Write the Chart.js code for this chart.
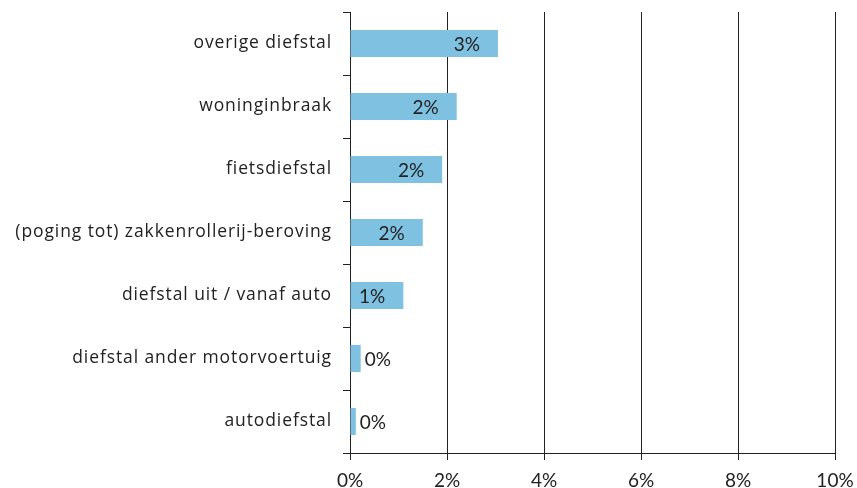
<!DOCTYPE html>
<html><head><meta charset="utf-8">
<script src="https://cdn.jsdelivr.net/npm/chart.js@4/dist/chart.umd.min.js"></script>
<style>html,body{margin:0;padding:0;background:#fff}#wrap{width:857px;height:488px}</style>
</head><body><div id="wrap"><canvas id="c"></canvas></div>
<script>
const categories = ["overige diefstal","woninginbraak","fietsdiefstal","(poging tot) zakkenrollerij-beroving","diefstal uit / vanaf auto","diefstal ander motorvoertuig","autodiefstal"];
const values = [3.05, 2.2, 1.9, 1.5, 1.1, 0.22, 0.12];
const valueLabels = ["3%","2%","2%","2%","1%","0%","0%"];
const xTicks = [0,2,4,6,8,10];

const labelPlugin = {
  id:'barLabels',
  afterDraw(chart){
    const ctx = chart.ctx;
    const meta = chart.getDatasetMeta(0);
    const yScale = chart.scales.y;
    ctx.save();
    ctx.fillStyle = '#222';
    ctx.textBaseline = 'middle';
    ctx.font = '19px Lato';
    meta.data.forEach((bar,i)=>{
      const w = bar.x - bar.base;
      if (w > 40){
        ctx.textAlign='right';
        ctx.fillText(valueLabels[i], bar.x - 18, bar.y+1);
      } else {
        ctx.textAlign='left';
        ctx.fillText(valueLabels[i], bar.x + 4, bar.y+1);
      }
    });
    ctx.font = '17.5px "Open Sans"';
    ctx.letterSpacing = '0.9px';
    ctx.textAlign = 'right';
    categories.forEach((c,i)=>{
      const y = yScale.getPixelForValue(i);
      ctx.fillText(c, chart.chartArea.left - 18, y);
    });
    ctx.restore();
  }
};

new Chart(document.getElementById('c'),{
  type:'bar',
  data:{labels:categories,datasets:[{data:values,backgroundColor:'#7fc1e1',borderWidth:0,barPercentage:0.43,categoryPercentage:1}]},
  options:{
    indexAxis:'y',responsive:true,maintainAspectRatio:false,animation:false,
    layout:{padding:{top:12,right:22,left:0,bottom:0}},
    plugins:{legend:{display:false},tooltip:{enabled:false}},
    scales:{
      x:{min:0,max:10,
        afterBuildTicks(s){s.ticks = xTicks.map(v=>({value:v}));},
        afterFit(s){s.height=35;s.paddingLeft=0;s.paddingRight=0;},
        ticks:{callback:v=>v+'%',font:{family:'Lato',size:19},color:'#222',padding:9,maxRotation:0},
        grid:{color:'#222',lineWidth:1,tickLength:7,drawTicks:true},
        border:{color:'#222',width:1}
      },
      y:{
        afterFit(s){s.width=350;},
        ticks:{display:false},
        grid:{offset:true,drawOnChartArea:false,color:'#222',tickLength:7},
        border:{color:'#222',width:1}
      }
    }
  },
  plugins:[labelPlugin]
});
</script></body></html>
